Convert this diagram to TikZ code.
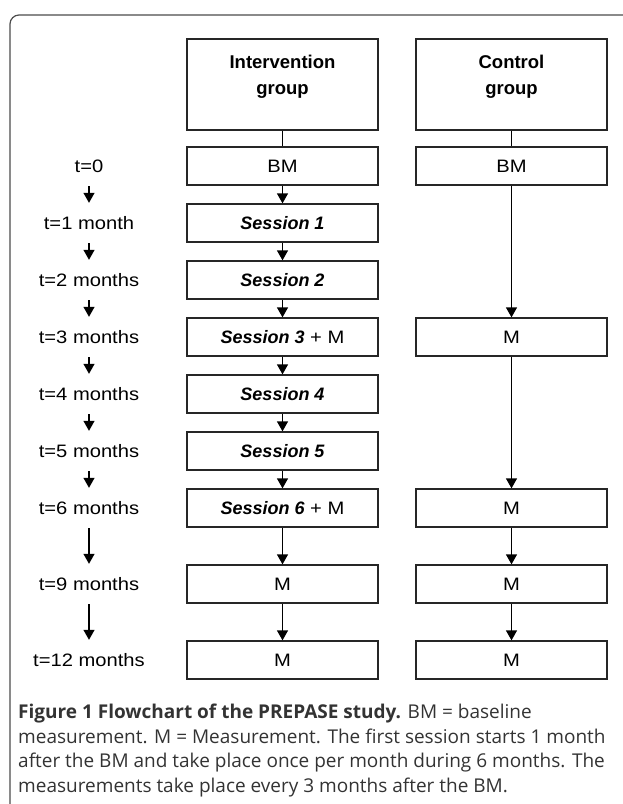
\documentclass[tikz,border=0pt]{standalone}
\usepackage{fontspec}
\setmainfont{Liberation Sans}
\newfontfamily\diagfont[FakeStretch=1.12]{Liberation Sans}
\newfontfamily\capfont{Open Sans}
\usetikzlibrary{arrows.meta}

\tikzset{
  stagebox/.style={draw=black!85, line width=1.3pt, minimum width=191pt, minimum height=38pt,
    inner sep=0pt, font=\diagfont\fontsize{18}{22}\selectfont},
  headbox/.style={stagebox, minimum height=91pt, align=center,
    font=\bfseries\fontsize{18.5}{26}\selectfont, text depth=19pt},
  timelabel/.style={minimum height=40pt, inner sep=0pt, font=\diagfont\fontsize{18}{22}\selectfont},
  flow/.style={line width=1.3pt, -{Triangle[length=10pt,width=11pt]}},
  link/.style={line width=1.3pt},
  frame/.style={line width=1.2pt, draw=black!70, rounded corners=9pt}
}
\newcommand{\sess}[1]{{\normalfont\bfseries\itshape Session #1}}

\begin{document}
\begin{tikzpicture}[x=1pt, y=-1pt]
    \useasboundingbox (0,0) rectangle (622,804);
    % Colonnes
    \def\colT{89}
    \def\colI{282.5}
    \def\colC{511.5}
    % Cadre
    \draw[frame] (10,815) -- (10,15) -- (640,15);
    % Groupes
    \node[headbox] (ihead) at (\colI, 84.5) {Intervention\\group};
    \node[headbox] (chead) at (\colC, 84.5) {Control\\group};
    % Temps
    \node[timelabel] (t0) at (\colT, 166) {t=0};
    \node[timelabel] (t1) at (\colT, 223) {t=1 month};
    \node[timelabel] (t2) at (\colT, 280) {t=2 months};
    \node[timelabel] (t3) at (\colT, 337) {t=3 months};
    \node[timelabel] (t4) at (\colT, 394) {t=4 months};
    \node[timelabel] (t5) at (\colT, 451) {t=5 months};
    \node[timelabel] (t6) at (\colT, 508) {t=6 months};
    \node[timelabel] (t9) at (\colT, 584) {t=9 months};
    \node[timelabel] (t12) at (\colT, 660) {t=12 months};
    % Groupe intervention
    \node[stagebox] (i0) at (\colI, 166) {BM};
    \node[stagebox] (i1) at (\colI, 223) {\sess{1}};
    \node[stagebox] (i2) at (\colI, 280) {\sess{2}};
    \node[stagebox] (i3) at (\colI, 337) {\sess{3} + M};
    \node[stagebox] (i4) at (\colI, 394) {\sess{4}};
    \node[stagebox] (i5) at (\colI, 451) {\sess{5}};
    \node[stagebox] (i6) at (\colI, 508) {\sess{6} + M};
    \node[stagebox] (i9) at (\colI, 584) {M};
    \node[stagebox] (i12) at (\colI, 660) {M};
    % Groupe controle
    \node[stagebox] (c0) at (\colC, 166) {BM};
    \node[stagebox] (c3) at (\colC, 337) {M};
    \node[stagebox] (c6) at (\colC, 508) {M};
    \node[stagebox] (c9) at (\colC, 584) {M};
    \node[stagebox] (c12) at (\colC, 660) {M};
    % Fleches du temps
    \draw[flow] (t0) -- (t1);
    \draw[flow] (t1) -- (t2);
    \draw[flow] (t2) -- (t3);
    \draw[flow] (t3) -- (t4);
    \draw[flow] (t4) -- (t5);
    \draw[flow] (t5) -- (t6);
    \draw[flow] (t6) -- (t9);
    \draw[flow] (t9) -- (t12);
    % Fleches intervention
    \draw[link] (ihead) -- (i0);
    \draw[flow] (i0) -- (i1);
    \draw[flow] (i1) -- (i2);
    \draw[flow] (i2) -- (i3);
    \draw[flow] (i3) -- (i4);
    \draw[flow] (i4) -- (i5);
    \draw[flow] (i5) -- (i6);
    \draw[flow] (i6) -- (i9);
    \draw[flow] (i9) -- (i12);
    % Fleches controle
    \draw[link] (chead) -- (c0);
    \draw[flow] (c0) -- (c3);
    \draw[flow] (c3) -- (c6);
    \draw[flow] (c6) -- (c9);
    \draw[flow] (c9) -- (c12);
    % Legende
    \node[anchor=north west, align=left, inner sep=0pt, text=black!80,
      font=\capfont\fontsize{19}{24.5}\selectfont] (caption) at (18,704)
      {\textbf{Figure 1 Flowchart of the PREPASE study.} BM = baseline\\
       measurement. M = Measurement. The first session starts 1 month\\
       after the BM and take place once per month during 6 months. The\\
       measurements take place every 3 months after the BM.};
\end{tikzpicture}
\end{document}
